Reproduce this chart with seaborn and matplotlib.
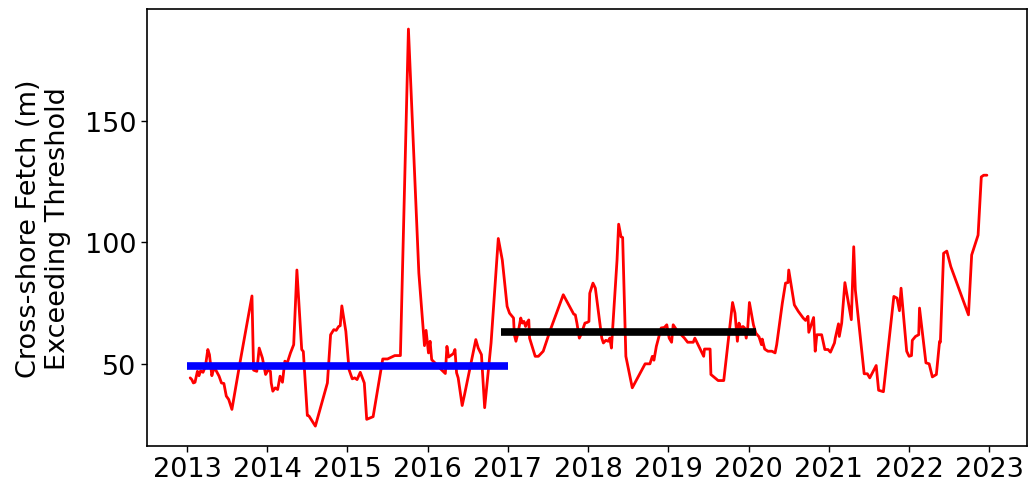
import matplotlib
matplotlib.use("Agg")
import pandas as pd
import matplotlib.pyplot as plt
import seaborn as sns

# decimal year of each survey and the cross-shore fetch exceeding threshold (m)
years = [
    2013.04, 2013.06, 2013.08, 2013.10, 2013.13, 2013.15, 2013.17, 2013.20, 2013.23, 2013.26,
    2013.28, 2013.31, 2013.33, 2013.36, 2013.40, 2013.43, 2013.46, 2013.49, 2013.52, 2013.56,
    2013.66, 2013.81, 2013.83, 2013.87, 2013.90, 2013.94, 2013.98, 2014.01, 2014.04, 2014.05,
    2014.07, 2014.10, 2014.13, 2014.16, 2014.19, 2014.22, 2014.25, 2014.29, 2014.33, 2014.37,
    2014.43, 2014.45, 2014.50, 2014.52, 2014.60, 2014.75, 2014.79, 2014.83, 2014.86, 2014.89,
    2014.91, 2014.93, 2014.98, 2015.02, 2015.06, 2015.09, 2015.12, 2015.16, 2015.21, 2015.24,
    2015.32, 2015.44, 2015.50, 2015.59, 2015.66, 2015.76, 2015.89, 2015.96, 2015.98, 2016.01,
    2016.03, 2016.05, 2016.09, 2016.17, 2016.22, 2016.24, 2016.26, 2016.32, 2016.34, 2016.36,
    2016.38, 2016.43, 2016.46, 2016.60, 2016.63, 2016.67, 2016.71, 2016.79, 2016.88, 2016.93,
    2016.99, 2017.02, 2017.07, 2017.08, 2017.10, 2017.13, 2017.16, 2017.18, 2017.20, 2017.22,
    2017.24, 2017.26, 2017.27, 2017.34, 2017.38, 2017.44, 2017.53, 2017.69, 2017.82, 2017.84,
    2017.86, 2017.89, 2017.91, 2017.96, 2017.99, 2018.01, 2018.02, 2018.06, 2018.09, 2018.17,
    2018.19, 2018.22, 2018.25, 2018.27, 2018.29, 2018.36, 2018.38, 2018.41, 2018.43, 2018.47,
    2018.55, 2018.71, 2018.77, 2018.80, 2018.82, 2018.85, 2018.91, 2018.95, 2018.98, 2019.01,
    2019.04, 2019.06, 2019.10, 2019.20, 2019.24, 2019.31, 2019.33, 2019.38, 2019.44, 2019.45,
    2019.52, 2019.53, 2019.62, 2019.69, 2019.80, 2019.83, 2019.86, 2019.88, 2019.90, 2019.93,
    2019.95, 2019.97, 2019.99, 2020.01, 2020.06, 2020.09, 2020.13, 2020.16, 2020.17, 2020.20,
    2020.24, 2020.29, 2020.33, 2020.35, 2020.42, 2020.46, 2020.49, 2020.50, 2020.57, 2020.62,
    2020.68, 2020.71, 2020.74, 2020.75, 2020.81, 2020.83, 2020.85, 2020.91, 2020.95, 2020.99,
    2021.02, 2021.07, 2021.08, 2021.12, 2021.13, 2021.16, 2021.20, 2021.28, 2021.31, 2021.33,
    2021.44, 2021.48, 2021.51, 2021.59, 2021.62, 2021.68, 2021.81, 2021.85, 2021.88, 2021.90,
    2021.97, 2022.00, 2022.03, 2022.04, 2022.08, 2022.12, 2022.13, 2022.21, 2022.25, 2022.29,
    2022.34, 2022.38, 2022.39, 2022.43, 2022.47, 2022.52, 2022.74, 2022.78, 2022.86, 2022.90,
    2022.93, 2022.97,
]
fetch_m = [
    44.1, 43.4, 42.0, 42.3, 46.8, 45.0, 47.0, 46.4, 48.9, 55.8,
    53.7, 45.0, 47.5, 47.3, 44.8, 42.0, 41.8, 36.6, 35.2, 31.1,
    50.3, 77.9, 47.3, 46.8, 56.4, 52.3, 45.5, 47.3, 46.8, 42.0,
    38.6, 40.0, 39.3, 44.8, 42.3, 51.0, 50.3, 54.4, 57.8, 88.6,
    55.8, 55.0, 28.6, 28.4, 24.2, 42.0, 61.9, 64.0, 63.7, 65.3,
    65.6, 73.8, 63.3, 47.5, 43.7, 44.1, 43.4, 46.4, 42.0, 27.0,
    28.1, 51.9, 51.9, 53.3, 53.3, 188.0, 87.3, 57.4, 63.7, 54.4,
    59.2, 51.6, 50.3, 47.5, 45.9, 57.1, 52.7, 54.1, 55.8, 46.2,
    44.1, 32.7, 37.3, 59.9, 56.4, 53.7, 31.8, 58.5, 101.6, 92.7,
    73.6, 70.8, 68.8, 61.9, 59.2, 63.3, 68.8, 66.7, 67.4, 65.3,
    67.0, 68.0, 60.5, 53.0, 53.0, 55.1, 64.0, 78.4, 70.4, 70.1,
    66.7, 60.5, 61.9, 66.7, 67.0, 67.4, 79.0, 83.2, 81.1, 60.5,
    58.5, 59.6, 59.2, 60.5, 56.4, 92.7, 107.5, 102.3, 102.0, 53.0,
    40.0, 49.9, 49.9, 53.0, 51.4, 57.1, 64.7, 64.9, 66.0, 60.5,
    58.8, 66.0, 64.0, 60.5, 58.8, 58.8, 60.5, 57.1, 53.0, 56.0,
    56.0, 45.5, 43.0, 43.0, 75.2, 70.8, 59.2, 66.7, 64.7, 65.3,
    64.7, 60.5, 65.3, 75.2, 66.0, 62.6, 61.0, 57.8, 60.1, 56.0,
    55.1, 55.1, 54.4, 57.8, 74.9, 83.2, 83.4, 88.6, 74.2, 71.5,
    68.8, 67.8, 69.5, 62.9, 69.0, 55.1, 61.9, 61.9, 55.8, 55.8,
    54.7, 58.5, 60.5, 66.4, 61.2, 66.7, 83.4, 68.1, 98.2, 80.4,
    45.8, 45.8, 44.1, 49.2, 39.0, 38.4, 77.7, 77.0, 71.8, 81.1,
    55.1, 53.0, 53.3, 59.6, 61.2, 61.9, 72.9, 50.3, 49.9, 44.5,
    45.5, 59.2, 58.8, 95.5, 96.4, 90.0, 70.1, 94.8, 103.0, 127.0,
    127.7, 127.7,
]

# period means
early_span = [2013.0, 2017.0]
early_mean = [49.0, 49.0]
late_span = [2016.91, 2020.09]
late_mean = [63.0, 63.0]

df = pd.DataFrame({"year": years, "fetch": fetch_m})

sns.set_style("ticks")
plt.rcParams["font.family"] = ["DejaVu Sans"]
plt.rcParams["axes.edgecolor"] = "black"
plt.rcParams["xtick.color"] = "black"
plt.rcParams["ytick.color"] = "black"
plt.rcParams["text.color"] = "black"
plt.rcParams["axes.labelcolor"] = "black"

fig = plt.figure(figsize=(10.3, 4.85), dpi=100)
ax = fig.add_axes([0.1427, 0.0784, 0.8543, 0.9006])

sns.lineplot(data=df, x="year", y="fetch", color="red", linewidth=2, sort=False, ax=ax)
ax.plot(early_span, early_mean, color="blue", linewidth=5.5, solid_capstyle="butt")
ax.plot(late_span, late_mean, color="black", linewidth=5.5, solid_capstyle="butt")

ax.set_xticks(range(2013, 2024))
ax.set_xticklabels([str(y) for y in range(2013, 2024)])
ax.set_yticks([50, 100, 150])
ax.tick_params(labelsize=19.5, width=1, length=4)
ax.set_xlabel("")
ax.set_ylabel("Cross-shore Fetch (m)\nExceeding Threshold", fontsize=19.5,
              linespacing=1.15, labelpad=10)
for s in ax.spines.values():
    s.set_linewidth(1.2)

plt.savefig("out.png", dpi=100)
